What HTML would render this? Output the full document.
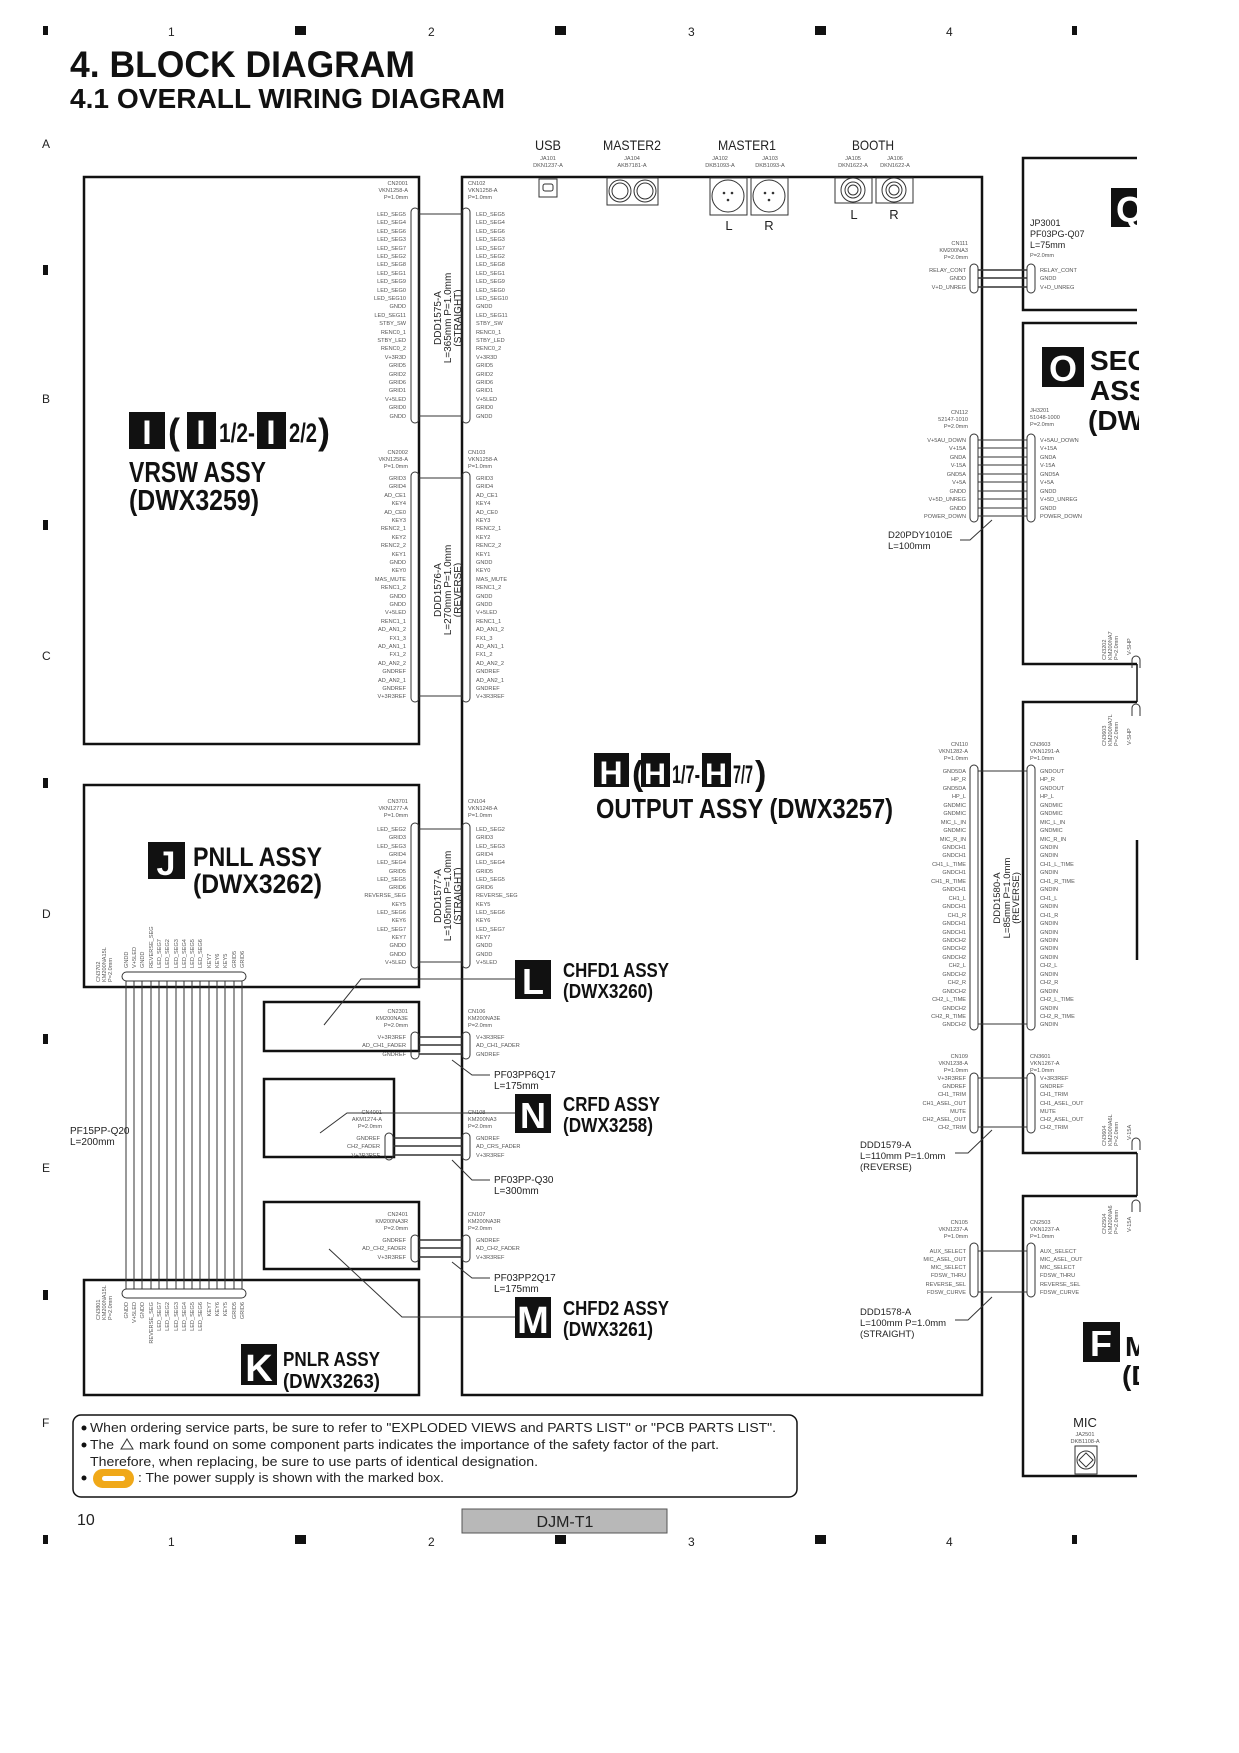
<!DOCTYPE html>
<html><head><meta charset="utf-8"><style>
html,body{margin:0;padding:0;background:#fff}
svg{display:block}
.p{font:5.6px "Liberation Sans",sans-serif;fill:#555}
.c{font:5.6px "Liberation Sans",sans-serif;fill:#555}
.h{font-family:"Liberation Sans",sans-serif;font-weight:bold;fill:#111}
.m{font-family:"Liberation Sans",sans-serif;fill:#222}
</style></head><body>
<svg width="1239" height="1753" viewBox="0 0 1239 1753" xmlns="http://www.w3.org/2000/svg">
<rect width="1239" height="1753" fill="#fff"/>
<!-- grid markers -->
<g fill="#111">
<rect x="43" y="26" width="5" height="9"/><rect x="295" y="26" width="11" height="9"/><rect x="555" y="26" width="11" height="9"/><rect x="815" y="26" width="11" height="9"/><rect x="1072" y="26" width="5" height="9"/>
<rect x="43" y="1535" width="5" height="9"/><rect x="295" y="1535" width="11" height="9"/><rect x="555" y="1535" width="11" height="9"/><rect x="815" y="1535" width="11" height="9"/><rect x="1072" y="1535" width="5" height="9"/>
<rect x="43" y="265" width="5" height="10"/><rect x="43" y="520" width="5" height="10"/><rect x="43" y="778" width="5" height="10"/><rect x="43" y="1034" width="5" height="10"/><rect x="43" y="1290" width="5" height="10"/>
</g>
<g class="m" font-size="12">
<text x="168" y="36">1</text><text x="428" y="36">2</text><text x="688" y="36">3</text><text x="946" y="36">4</text>
<text x="168" y="1546">1</text><text x="428" y="1546">2</text><text x="688" y="1546">3</text><text x="946" y="1546">4</text>
<text x="42" y="148">A</text><text x="42" y="403">B</text><text x="42" y="660">C</text><text x="42" y="918">D</text><text x="42" y="1172">E</text><text x="42" y="1427">F</text>
</g>
<!-- titles -->
<text class="h" x="70" y="77" font-size="37" textLength="345" lengthAdjust="spacingAndGlyphs">4. BLOCK DIAGRAM</text>
<text class="h" x="70" y="108" font-size="28" textLength="435" lengthAdjust="spacingAndGlyphs">4.1  OVERALL WIRING DIAGRAM</text>

<!-- main boxes -->
<g fill="none" stroke="#111" stroke-width="2.5">
<rect x="84" y="177" width="335" height="567"/>
<rect x="462" y="177" width="520" height="1218"/>
<rect x="84" y="785" width="335" height="202"/>
<rect x="84" y="1280" width="335" height="115"/>
<rect x="264" y="1002" width="155" height="49"/>
<rect x="264" y="1079" width="130" height="78"/>
<rect x="264" y="1202" width="155" height="67"/>
<path d="M1137 158 H1023 V310 H1137 M1137 323 H1023 V664 H1137 M1137 702 H1023 V1153 H1137 M1137 1196 H1023 V1476 H1137"/>
</g>
<line x1="1137" y1="1153" x2="1137" y2="1196" stroke="#111" stroke-width="1.5"/>
<line x1="1137" y1="840" x2="1137" y2="960" stroke="#111" stroke-width="2.5"/>
<line x1="1137" y1="664" x2="1137" y2="702" stroke="#111" stroke-width="1.5"/>

<!-- jacks -->
<g text-anchor="middle">
<text class="m" x="548" y="150" font-size="14" textLength="26" lengthAdjust="spacingAndGlyphs">USB</text>
<text class="m" x="632" y="150" font-size="14" textLength="58" lengthAdjust="spacingAndGlyphs">MASTER2</text>
<text class="m" x="747" y="150" font-size="14" textLength="58" lengthAdjust="spacingAndGlyphs">MASTER1</text>
<text class="m" x="873" y="150" font-size="14" textLength="42" lengthAdjust="spacingAndGlyphs">BOOTH</text>
<text class="c" x="548" y="160">JA101</text><text class="c" x="548" y="167">DKN1237-A</text>
<text class="c" x="632" y="160">JA104</text><text class="c" x="632" y="167">AKB7181-A</text>
<text class="c" x="720" y="160">JA102</text><text class="c" x="720" y="167">DKB1093-A</text>
<text class="c" x="770" y="160">JA103</text><text class="c" x="770" y="167">DKB1093-A</text>
<text class="c" x="853" y="160">JA105</text><text class="c" x="853" y="167">DKN1622-A</text>
<text class="c" x="895" y="160">JA106</text><text class="c" x="895" y="167">DKN1622-A</text>
<text class="m" x="729" y="230" font-size="13">L</text><text class="m" x="769" y="230" font-size="13">R</text>
<text class="m" x="854" y="219" font-size="13">L</text><text class="m" x="894" y="219" font-size="13">R</text>
</g>
<g fill="none" stroke="#333" stroke-width="1">
<rect x="539" y="179" width="18" height="18"/><rect x="543" y="184" width="10" height="7" rx="2"/>
<rect x="607" y="178" width="51" height="27"/><circle cx="620" cy="191" r="11"/><circle cx="620" cy="191" r="8"/><circle cx="645" cy="191" r="11"/><circle cx="645" cy="191" r="8"/>
<rect x="710" y="178" width="37" height="37"/><circle cx="728" cy="196" r="16"/><rect x="751" y="178" width="37" height="37"/><circle cx="769" cy="196" r="16"/>
<rect x="835" y="178" width="37" height="25"/><circle cx="853" cy="190" r="12"/><circle cx="853" cy="190" r="8"/><circle cx="853" cy="190" r="5"/>
<rect x="876" y="178" width="37" height="25"/><circle cx="894" cy="190" r="12"/><circle cx="894" cy="190" r="8"/><circle cx="894" cy="190" r="5"/>
</g>
<g fill="#333"><circle cx="724" cy="193" r="1.3"/><circle cx="732" cy="193" r="1.3"/><circle cx="728" cy="200" r="1.3"/><circle cx="765" cy="193" r="1.3"/><circle cx="773" cy="193" r="1.3"/><circle cx="769" cy="200" r="1.3"/></g>

<!-- ===== CN2001 / CN102 ===== -->
<g class="c" text-anchor="end"><text x="408" y="185">CN2001</text><text x="408" y="192">VKN1258-A</text><text x="408" y="199">P=1.0mm</text></g>
<g class="c"><text x="468" y="185">CN102</text><text x="468" y="192">VKN1258-A</text><text x="468" y="199">P=1.0mm</text></g>
<g fill="none" stroke="#333" stroke-width="1"><rect x="411" y="208" width="8" height="215" rx="4"/><rect x="462" y="208" width="8" height="215" rx="4"/></g>
<line x1="419" y1="214" x2="462" y2="214" stroke="#333"/><line x1="419" y1="416" x2="462" y2="416" stroke="#333"/>
<g class="p" text-anchor="end">
<text x="406" y="216">LED_SEG5</text><text x="406" y="224">LED_SEG4</text><text x="406" y="233">LED_SEG6</text><text x="406" y="241">LED_SEG3</text><text x="406" y="250">LED_SEG7</text><text x="406" y="258">LED_SEG2</text><text x="406" y="266">LED_SEG8</text><text x="406" y="275">LED_SEG1</text><text x="406" y="283">LED_SEG9</text><text x="406" y="292">LED_SEG0</text><text x="406" y="300">LED_SEG10</text><text x="406" y="308">GNDD</text><text x="406" y="317">LED_SEG11</text><text x="406" y="325">STBY_SW</text><text x="406" y="334">RENC0_1</text><text x="406" y="342">STBY_LED</text><text x="406" y="350">RENC0_2</text><text x="406" y="359">V+3R3D</text><text x="406" y="367">GRID5</text><text x="406" y="376">GRID2</text><text x="406" y="384">GRID6</text><text x="406" y="392">GRID1</text><text x="406" y="401">V+5LED</text><text x="406" y="409">GRID0</text><text x="406" y="418">GNDD</text>
</g>
<g class="p">
<text x="476" y="216">LED_SEG5</text><text x="476" y="224">LED_SEG4</text><text x="476" y="233">LED_SEG6</text><text x="476" y="241">LED_SEG3</text><text x="476" y="250">LED_SEG7</text><text x="476" y="258">LED_SEG2</text><text x="476" y="266">LED_SEG8</text><text x="476" y="275">LED_SEG1</text><text x="476" y="283">LED_SEG9</text><text x="476" y="292">LED_SEG0</text><text x="476" y="300">LED_SEG10</text><text x="476" y="308">GNDD</text><text x="476" y="317">LED_SEG11</text><text x="476" y="325">STBY_SW</text><text x="476" y="334">RENC0_1</text><text x="476" y="342">STBY_LED</text><text x="476" y="350">RENC0_2</text><text x="476" y="359">V+3R3D</text><text x="476" y="367">GRID5</text><text x="476" y="376">GRID2</text><text x="476" y="384">GRID6</text><text x="476" y="392">GRID1</text><text x="476" y="401">V+5LED</text><text x="476" y="409">GRID0</text><text x="476" y="418">GNDD</text>
</g>
<g class="m" font-size="10" text-anchor="middle" transform="translate(449,318) rotate(-90)"><text x="0" y="-8">DDD1575-A</text><text x="0" y="2">L=365mm P=1.0mm</text><text x="0" y="12">(STRAIGHT)</text></g>

<!-- ===== CN2002 / CN103 ===== -->
<g class="c" text-anchor="end"><text x="408" y="454">CN2002</text><text x="408" y="461">VKN1258-A</text><text x="408" y="468">P=1.0mm</text></g>
<g class="c"><text x="468" y="454">CN103</text><text x="468" y="461">VKN1258-A</text><text x="468" y="468">P=1.0mm</text></g>
<g fill="none" stroke="#333"><rect x="411" y="472" width="8" height="230" rx="4"/><rect x="462" y="472" width="8" height="230" rx="4"/></g>
<line x1="419" y1="478" x2="462" y2="478" stroke="#333"/><line x1="419" y1="696" x2="462" y2="696" stroke="#333"/>
<g class="p" text-anchor="end">
<text x="406" y="480">GRID3</text><text x="406" y="488">GRID4</text><text x="406" y="497">AD_CE1</text><text x="406" y="505">KEY4</text><text x="406" y="514">AD_CE0</text><text x="406" y="522">KEY3</text><text x="406" y="530">RENC2_1</text><text x="406" y="539">KEY2</text><text x="406" y="547">RENC2_2</text><text x="406" y="556">KEY1</text><text x="406" y="564">GNDD</text><text x="406" y="572">KEY0</text><text x="406" y="581">MAS_MUTE</text><text x="406" y="589">RENC1_2</text><text x="406" y="598">GNDD</text><text x="406" y="606">GNDD</text><text x="406" y="614">V+5LED</text><text x="406" y="623">RENC1_1</text><text x="406" y="631">AD_AN1_2</text><text x="406" y="640">FX1_3</text><text x="406" y="648">AD_AN1_1</text><text x="406" y="656">FX1_2</text><text x="406" y="665">AD_AN2_2</text><text x="406" y="673">GNDREF</text><text x="406" y="682">AD_AN2_1</text><text x="406" y="690">GNDREF</text><text x="406" y="698">V+3R3REF</text>
</g>
<g class="p">
<text x="476" y="480">GRID3</text><text x="476" y="488">GRID4</text><text x="476" y="497">AD_CE1</text><text x="476" y="505">KEY4</text><text x="476" y="514">AD_CE0</text><text x="476" y="522">KEY3</text><text x="476" y="530">RENC2_1</text><text x="476" y="539">KEY2</text><text x="476" y="547">RENC2_2</text><text x="476" y="556">KEY1</text><text x="476" y="564">GNDD</text><text x="476" y="572">KEY0</text><text x="476" y="581">MAS_MUTE</text><text x="476" y="589">RENC1_2</text><text x="476" y="598">GNDD</text><text x="476" y="606">GNDD</text><text x="476" y="614">V+5LED</text><text x="476" y="623">RENC1_1</text><text x="476" y="631">AD_AN1_2</text><text x="476" y="640">FX1_3</text><text x="476" y="648">AD_AN1_1</text><text x="476" y="656">FX1_2</text><text x="476" y="665">AD_AN2_2</text><text x="476" y="673">GNDREF</text><text x="476" y="682">AD_AN2_1</text><text x="476" y="690">GNDREF</text><text x="476" y="698">V+3R3REF</text>
</g>
<g class="m" font-size="10" text-anchor="middle" transform="translate(449,590) rotate(-90)"><text x="0" y="-8">DDD1576-A</text><text x="0" y="2">L=270mm P=1.0mm</text><text x="0" y="12">(REVERSE)</text></g>

<!-- ===== CN3701 / CN104 ===== -->
<g class="c" text-anchor="end"><text x="408" y="803">CN3701</text><text x="408" y="810">VKN1277-A</text><text x="408" y="817">P=1.0mm</text></g>
<g class="c"><text x="468" y="803">CN104</text><text x="468" y="810">VKN1248-A</text><text x="468" y="817">P=1.0mm</text></g>
<g fill="none" stroke="#333"><rect x="411" y="823" width="8" height="145" rx="4"/><rect x="462" y="823" width="8" height="145" rx="4"/></g>
<line x1="419" y1="829" x2="462" y2="829" stroke="#333"/><line x1="419" y1="962" x2="462" y2="962" stroke="#333"/>
<g class="p" text-anchor="end">
<text x="406" y="831">LED_SEG2</text><text x="406" y="839">GRID3</text><text x="406" y="848">LED_SEG3</text><text x="406" y="856">GRID4</text><text x="406" y="864">LED_SEG4</text><text x="406" y="873">GRID5</text><text x="406" y="881">LED_SEG5</text><text x="406" y="889">GRID6</text><text x="406" y="897">REVERSE_SEG</text><text x="406" y="906">KEY5</text><text x="406" y="914">LED_SEG6</text><text x="406" y="922">KEY6</text><text x="406" y="931">LED_SEG7</text><text x="406" y="939">KEY7</text><text x="406" y="947">GNDD</text><text x="406" y="956">GNDD</text><text x="406" y="964">V+5LED</text>
</g>
<g class="p">
<text x="476" y="831">LED_SEG2</text><text x="476" y="839">GRID3</text><text x="476" y="848">LED_SEG3</text><text x="476" y="856">GRID4</text><text x="476" y="864">LED_SEG4</text><text x="476" y="873">GRID5</text><text x="476" y="881">LED_SEG5</text><text x="476" y="889">GRID6</text><text x="476" y="897">REVERSE_SEG</text><text x="476" y="906">KEY5</text><text x="476" y="914">LED_SEG6</text><text x="476" y="922">KEY6</text><text x="476" y="931">LED_SEG7</text><text x="476" y="939">KEY7</text><text x="476" y="947">GNDD</text><text x="476" y="956">GNDD</text><text x="476" y="964">V+5LED</text>
</g>
<g class="m" font-size="10" text-anchor="middle" transform="translate(449,896) rotate(-90)"><text x="0" y="-8">DDD1577-A</text><text x="0" y="2">L=105mm P=1.0mm</text><text x="0" y="12">(STRAIGHT)</text></g>

<!-- J / K ribbon -->
<g fill="none" stroke="#333"><rect x="122" y="972" width="124" height="9" rx="4.5"/><rect x="122" y="1289" width="124" height="9" rx="4.5"/></g>
<g stroke="#333" stroke-width="1">
<line x1="126" y1="981" x2="126" y2="1289"/><line x1="134" y1="981" x2="134" y2="1289"/><line x1="142" y1="981" x2="142" y2="1289"/><line x1="151" y1="981" x2="151" y2="1289"/><line x1="159" y1="981" x2="159" y2="1289"/><line x1="167" y1="981" x2="167" y2="1289"/><line x1="176" y1="981" x2="176" y2="1289"/><line x1="184" y1="981" x2="184" y2="1289"/><line x1="192" y1="981" x2="192" y2="1289"/><line x1="200" y1="981" x2="200" y2="1289"/><line x1="209" y1="981" x2="209" y2="1289"/><line x1="217" y1="981" x2="217" y2="1289"/><line x1="225" y1="981" x2="225" y2="1289"/><line x1="234" y1="981" x2="234" y2="1289"/><line x1="242" y1="981" x2="242" y2="1289"/>
</g>
<g class="p">
<g transform="translate(128,968) rotate(-90)"><text>GNDD</text></g><g transform="translate(136,968) rotate(-90)"><text>V+5LED</text></g><g transform="translate(144,968) rotate(-90)"><text>GNDD</text></g><g transform="translate(153,968) rotate(-90)"><text>REVERSE_SEG</text></g><g transform="translate(161,968) rotate(-90)"><text>LED_SEG7</text></g><g transform="translate(169,968) rotate(-90)"><text>LED_SEG2</text></g><g transform="translate(178,968) rotate(-90)"><text>LED_SEG3</text></g><g transform="translate(186,968) rotate(-90)"><text>LED_SEG4</text></g><g transform="translate(194,968) rotate(-90)"><text>LED_SEG5</text></g><g transform="translate(202,968) rotate(-90)"><text>LED_SEG6</text></g><g transform="translate(211,968) rotate(-90)"><text>KEY7</text></g><g transform="translate(219,968) rotate(-90)"><text>KEY6</text></g><g transform="translate(227,968) rotate(-90)"><text>KEY5</text></g><g transform="translate(236,968) rotate(-90)"><text>GRID5</text></g><g transform="translate(244,968) rotate(-90)"><text>GRID6</text></g>
<g transform="translate(100,982) rotate(-90)"><text>CN3702</text><text y="6">KM200NA15L</text><text y="12">P=2.0mm</text></g>
<g transform="translate(128,1302) rotate(-90)"><text text-anchor="end">GNDD</text></g><g transform="translate(136,1302) rotate(-90)"><text text-anchor="end">V+5LED</text></g><g transform="translate(144,1302) rotate(-90)"><text text-anchor="end">GNDD</text></g><g transform="translate(153,1302) rotate(-90)"><text text-anchor="end">REVERSE_SEG</text></g><g transform="translate(161,1302) rotate(-90)"><text text-anchor="end">LED_SEG7</text></g><g transform="translate(169,1302) rotate(-90)"><text text-anchor="end">LED_SEG2</text></g><g transform="translate(178,1302) rotate(-90)"><text text-anchor="end">LED_SEG3</text></g><g transform="translate(186,1302) rotate(-90)"><text text-anchor="end">LED_SEG4</text></g><g transform="translate(194,1302) rotate(-90)"><text text-anchor="end">LED_SEG5</text></g><g transform="translate(202,1302) rotate(-90)"><text text-anchor="end">LED_SEG6</text></g><g transform="translate(211,1302) rotate(-90)"><text text-anchor="end">KEY7</text></g><g transform="translate(219,1302) rotate(-90)"><text text-anchor="end">KEY6</text></g><g transform="translate(227,1302) rotate(-90)"><text text-anchor="end">KEY5</text></g><g transform="translate(236,1302) rotate(-90)"><text text-anchor="end">GRID5</text></g><g transform="translate(244,1302) rotate(-90)"><text text-anchor="end">GRID6</text></g>
<g transform="translate(100,1320) rotate(-90)"><text>CN3801</text><text y="6">KM200NA15L</text><text y="12">P=2.0mm</text></g>
</g>
<text class="m" x="70" y="1134" font-size="10">PF15PP-Q20</text><text class="m" x="70" y="1145" font-size="10">L=200mm</text>

<!-- small connectors L N M -->
<g fill="none" stroke="#333"><rect x="411" y="1032" width="8" height="27" rx="4"/><rect x="462" y="1032" width="8" height="27" rx="4"/>
<rect x="385" y="1133" width="8" height="27" rx="4"/><rect x="462" y="1133" width="8" height="27" rx="4"/>
<rect x="411" y="1235" width="8" height="27" rx="4"/><rect x="462" y="1235" width="8" height="27" rx="4"/></g>
<g stroke="#333" stroke-width="1.4"><line x1="419" y1="1037" x2="462" y2="1037"/><line x1="419" y1="1045" x2="462" y2="1045"/><line x1="419" y1="1054" x2="462" y2="1054"/>
<line x1="393" y1="1138" x2="462" y2="1138"/><line x1="393" y1="1146" x2="462" y2="1146"/><line x1="393" y1="1155" x2="462" y2="1155"/>
<line x1="419" y1="1240" x2="462" y2="1240"/><line x1="419" y1="1248" x2="462" y2="1248"/><line x1="419" y1="1257" x2="462" y2="1257"/></g>
<g class="c" text-anchor="end">
<text x="408" y="1013">CN2301</text><text x="408" y="1020">KM200NA3E</text><text x="408" y="1027">P=2.0mm</text>
<text x="406" y="1039">V+3R3REF</text><text x="406" y="1047">AD_CH1_FADER</text><text x="406" y="1056">GNDREF</text>
<text x="382" y="1114">CN4001</text><text x="382" y="1121">AKM1274-A</text><text x="382" y="1128">P=2.0mm</text>
<text x="380" y="1140">GNDREF</text><text x="380" y="1148">CH2_FADER</text><text x="380" y="1157">V+3R3REF</text>
<text x="408" y="1216">CN2401</text><text x="408" y="1223">KM200NA3R</text><text x="408" y="1230">P=2.0mm</text>
<text x="406" y="1242">GNDREF</text><text x="406" y="1250">AD_CH2_FADER</text><text x="406" y="1259">V+3R3REF</text>
</g>
<g class="c">
<text x="468" y="1013">CN106</text><text x="468" y="1020">KM200NA3E</text><text x="468" y="1027">P=2.0mm</text>
<text x="476" y="1039">V+3R3REF</text><text x="476" y="1047">AD_CH1_FADER</text><text x="476" y="1056">GNDREF</text>
<text x="468" y="1114">CN108</text><text x="468" y="1121">KM200NA3</text><text x="468" y="1128">P=2.0mm</text>
<text x="476" y="1140">GNDREF</text><text x="476" y="1148">AD_CRS_FADER</text><text x="476" y="1157">V+3R3REF</text>
<text x="468" y="1216">CN107</text><text x="468" y="1223">KM200NA3R</text><text x="468" y="1230">P=2.0mm</text>
<text x="476" y="1242">GNDREF</text><text x="476" y="1250">AD_CH2_FADER</text><text x="476" y="1259">V+3R3REF</text>
</g>
<g fill="none" stroke="#333" stroke-width="1">
<path d="M452 1060 L472 1075 H490"/><path d="M452 1160 L472 1180 H490"/><path d="M452 1262 L472 1278 H490"/>
<path d="M515 979 H361 L324 1025"/><path d="M515 1113 H347 L320 1133"/><path d="M515 1317 H402 L329 1249"/>
</g>
<g class="m" font-size="10">
<text x="494" y="1078">PF03PP6Q17</text><text x="494" y="1089">L=175mm</text>
<text x="494" y="1183">PF03PP-Q30</text><text x="494" y="1194">L=300mm</text>
<text x="494" y="1281">PF03PP2Q17</text><text x="494" y="1292">L=175mm</text>
</g>

<!-- ASSY labels -->
<g fill="#111">
<rect x="129" y="412" width="36" height="37"/><rect x="187" y="412" width="29" height="37"/><rect x="257" y="412" width="29" height="37"/>
<rect x="594" y="753" width="35" height="34"/><rect x="641" y="753" width="29" height="34"/><rect x="702" y="753" width="29" height="34"/>
<rect x="148" y="842" width="37" height="37"/>
<rect x="241" y="1344" width="36" height="41"/>
<rect x="515" y="960" width="36" height="39"/><rect x="515" y="1094" width="36" height="39"/><rect x="515" y="1297" width="36" height="41"/>
<rect x="1111" y="188" width="26" height="39"/><rect x="1042" y="347" width="42" height="40"/><rect x="1083" y="1322" width="37" height="40"/>
</g>
<g class="h" text-anchor="middle">
<text x="147" y="444" font-size="34" style="fill:#fff">I</text><text x="201" y="444" font-size="34" style="fill:#fff">I</text><text x="271" y="444" font-size="34" style="fill:#fff">I</text>
<text x="611" y="784" font-size="32" style="fill:#fff">H</text><text x="655" y="784" font-size="30" style="fill:#fff" textLength="22" lengthAdjust="spacingAndGlyphs">H</text><text x="716" y="784" font-size="30" style="fill:#fff" textLength="22" lengthAdjust="spacingAndGlyphs">H</text>
<text x="166" y="875" font-size="34" style="fill:#fff">J</text>
<text x="259" y="1381" font-size="38" style="fill:#fff">K</text>
<text x="533" y="994" font-size="36" style="fill:#fff">L</text><text x="533" y="1128" font-size="36" style="fill:#fff">N</text><text x="533" y="1333" font-size="38" style="fill:#fff">M</text>
<text x="1130" y="222" font-size="36" style="fill:#fff">Q</text><text x="1063" y="381" font-size="36" style="fill:#fff">O</text><text x="1101" y="1356" font-size="36" style="fill:#fff">F</text>
</g>
<g class="h">
<text x="168" y="444" font-size="36">(</text><text x="219" y="442" font-size="27" textLength="36" lengthAdjust="spacingAndGlyphs">1/2-</text><text x="289" y="442" font-size="27" textLength="28" lengthAdjust="spacingAndGlyphs">2/2</text><text x="318" y="444" font-size="36">)</text>
<text x="129" y="482" font-size="29" textLength="137" lengthAdjust="spacingAndGlyphs">VRSW ASSY</text>
<text x="129" y="510" font-size="29" textLength="130" lengthAdjust="spacingAndGlyphs">(DWX3259)</text>
<text x="632" y="785" font-size="34">(</text><text x="672" y="783" font-size="25" textLength="28" lengthAdjust="spacingAndGlyphs">1/7-</text><text x="733" y="783" font-size="25" textLength="20" lengthAdjust="spacingAndGlyphs">7/7</text><text x="755" y="785" font-size="34">)</text>
<text x="596" y="818" font-size="28" textLength="297" lengthAdjust="spacingAndGlyphs">OUTPUT ASSY (DWX3257)</text>
<text x="193" y="866" font-size="27" textLength="129" lengthAdjust="spacingAndGlyphs">PNLL ASSY</text>
<text x="193" y="893" font-size="27" textLength="129" lengthAdjust="spacingAndGlyphs">(DWX3262)</text>
<text x="283" y="1366" font-size="20" textLength="97" lengthAdjust="spacingAndGlyphs">PNLR ASSY</text>
<text x="283" y="1388" font-size="20" textLength="97" lengthAdjust="spacingAndGlyphs">(DWX3263)</text>
<text x="563" y="977" font-size="20" textLength="106" lengthAdjust="spacingAndGlyphs">CHFD1 ASSY</text>
<text x="563" y="998" font-size="20" textLength="90" lengthAdjust="spacingAndGlyphs">(DWX3260)</text>
<text x="563" y="1111" font-size="20" textLength="97" lengthAdjust="spacingAndGlyphs">CRFD ASSY</text>
<text x="563" y="1132" font-size="20" textLength="90" lengthAdjust="spacingAndGlyphs">(DWX3258)</text>
<text x="563" y="1315" font-size="20" textLength="106" lengthAdjust="spacingAndGlyphs">CHFD2 ASSY</text>
<text x="563" y="1336" font-size="20" textLength="90" lengthAdjust="spacingAndGlyphs">(DWX3261)</text>
<text x="1090" y="370" font-size="28">SECO</text><text x="1090" y="400" font-size="28">ASSY</text><text x="1088" y="430" font-size="28">(DWX</text>
<text x="1125" y="1356" font-size="28">M</text><text x="1122" y="1385" font-size="28">(D</text>
</g>
<!-- white cover to clip right side -->
<rect x="1139" y="140" width="100" height="1360" fill="#fff"/>

<!-- ===== right-side connectors ===== -->
<g class="c" text-anchor="end"><text x="968" y="245">CN111</text><text x="968" y="252">KM200NA3</text><text x="968" y="259">P=2.0mm</text>
<text x="966" y="272">RELAY_CONT</text><text x="966" y="280">GNDD</text><text x="966" y="289">V+D_UNREG</text></g>
<g fill="none" stroke="#333"><rect x="970" y="264" width="8" height="29" rx="4"/><rect x="1027" y="264" width="8" height="29" rx="4"/></g>
<g stroke="#333" stroke-width="1.4"><line x1="978" y1="270" x2="1027" y2="270"/><line x1="978" y1="278" x2="1027" y2="278"/><line x1="978" y1="287" x2="1027" y2="287"/></g>
<g class="c"><text x="1040" y="272">RELAY_CONT</text><text x="1040" y="280">GNDD</text><text x="1040" y="289">V+D_UNREG</text></g>
<g class="m" font-size="9"><text x="1030" y="226">JP3001</text><text x="1030" y="237">PF03PG-Q07</text><text x="1030" y="248">L=75mm</text></g><text class="c" x="1030" y="257">P=2.0mm</text>

<g class="c" text-anchor="end"><text x="968" y="414">CN112</text><text x="968" y="421">52147-1010</text><text x="968" y="428">P=2.0mm</text></g>
<g class="c"><text x="1030" y="412">JH3201</text><text x="1030" y="419">51048-1000</text><text x="1030" y="426">P=2.0mm</text></g>
<g fill="none" stroke="#333"><rect x="970" y="434" width="8" height="88" rx="4"/><rect x="1027" y="434" width="8" height="88" rx="4"/></g>
<g stroke="#333" stroke-width="1"><line x1="978" y1="440" x2="1027" y2="440"/><line x1="978" y1="448" x2="1027" y2="448"/><line x1="978" y1="457" x2="1027" y2="457"/><line x1="978" y1="465" x2="1027" y2="465"/><line x1="978" y1="474" x2="1027" y2="474"/><line x1="978" y1="482" x2="1027" y2="482"/><line x1="978" y1="491" x2="1027" y2="491"/><line x1="978" y1="499" x2="1027" y2="499"/><line x1="978" y1="508" x2="1027" y2="508"/><line x1="978" y1="516" x2="1027" y2="516"/></g>
<g class="p" text-anchor="end"><text x="966" y="442">V+5AU_DOWN</text><text x="966" y="450">V+15A</text><text x="966" y="459">GNDA</text><text x="966" y="467">V-15A</text><text x="966" y="476">GND5A</text><text x="966" y="484">V+5A</text><text x="966" y="493">GNDD</text><text x="966" y="501">V+5D_UNREG</text><text x="966" y="510">GNDD</text><text x="966" y="518">POWER_DOWN</text></g>
<g class="p"><text x="1040" y="442">V+5AU_DOWN</text><text x="1040" y="450">V+15A</text><text x="1040" y="459">GNDA</text><text x="1040" y="467">V-15A</text><text x="1040" y="476">GND5A</text><text x="1040" y="484">V+5A</text><text x="1040" y="493">GNDD</text><text x="1040" y="501">V+5D_UNREG</text><text x="1040" y="510">GNDD</text><text x="1040" y="518">POWER_DOWN</text></g>
<path d="M992 520 L970 540 H960" fill="none" stroke="#333"/>
<g class="m" font-size="9.5"><text x="888" y="538">D20PDY1010E</text><text x="888" y="549">L=100mm</text></g>

<g class="c" text-anchor="end"><text x="968" y="746">CN110</text><text x="968" y="753">VKN1282-A</text><text x="968" y="760">P=1.0mm</text></g>
<g class="c"><text x="1030" y="746">CN3603</text><text x="1030" y="753">VKN1291-A</text><text x="1030" y="760">P=1.0mm</text></g>
<g fill="none" stroke="#333"><rect x="970" y="765" width="8" height="265" rx="4"/><rect x="1027" y="765" width="8" height="265" rx="4"/></g>
<line x1="978" y1="771" x2="1027" y2="771" stroke="#333"/><line x1="978" y1="1024" x2="1027" y2="1024" stroke="#333"/>
<g class="p" text-anchor="end">
<text x="966" y="773">GND5DA</text><text x="966" y="781">HP_R</text><text x="966" y="790">GND5DA</text><text x="966" y="798">HP_L</text><text x="966" y="807">GNDMIC</text><text x="966" y="815">GNDMIC</text><text x="966" y="824">MIC_L_IN</text><text x="966" y="832">GNDMIC</text><text x="966" y="841">MIC_R_IN</text><text x="966" y="849">GNDCH1</text><text x="966" y="857">GNDCH1</text><text x="966" y="866">CH1_L_TIME</text><text x="966" y="874">GNDCH1</text><text x="966" y="883">CH1_R_TIME</text><text x="966" y="891">GNDCH1</text><text x="966" y="900">CH1_L</text><text x="966" y="908">GNDCH1</text><text x="966" y="917">CH1_R</text><text x="966" y="925">GNDCH1</text><text x="966" y="934">GNDCH1</text><text x="966" y="942">GNDCH2</text><text x="966" y="950">GNDCH2</text><text x="966" y="959">GNDCH2</text><text x="966" y="967">CH2_L</text><text x="966" y="976">GNDCH2</text><text x="966" y="984">CH2_R</text><text x="966" y="993">GNDCH2</text><text x="966" y="1001">CH2_L_TIME</text><text x="966" y="1010">GNDCH2</text><text x="966" y="1018">CH2_R_TIME</text><text x="966" y="1026">GNDCH2</text>
</g>
<g class="p">
<text x="1040" y="773">GNDOUT</text><text x="1040" y="781">HP_R</text><text x="1040" y="790">GNDOUT</text><text x="1040" y="798">HP_L</text><text x="1040" y="807">GNDMIC</text><text x="1040" y="815">GNDMIC</text><text x="1040" y="824">MIC_L_IN</text><text x="1040" y="832">GNDMIC</text><text x="1040" y="841">MIC_R_IN</text><text x="1040" y="849">GNDIN</text><text x="1040" y="857">GNDIN</text><text x="1040" y="866">CH1_L_TIME</text><text x="1040" y="874">GNDIN</text><text x="1040" y="883">CH1_R_TIME</text><text x="1040" y="891">GNDIN</text><text x="1040" y="900">CH1_L</text><text x="1040" y="908">GNDIN</text><text x="1040" y="917">CH1_R</text><text x="1040" y="925">GNDIN</text><text x="1040" y="934">GNDIN</text><text x="1040" y="942">GNDIN</text><text x="1040" y="950">GNDIN</text><text x="1040" y="959">GNDIN</text><text x="1040" y="967">CH2_L</text><text x="1040" y="976">GNDIN</text><text x="1040" y="984">CH2_R</text><text x="1040" y="993">GNDIN</text><text x="1040" y="1001">CH2_L_TIME</text><text x="1040" y="1010">GNDIN</text><text x="1040" y="1018">CH2_R_TIME</text><text x="1040" y="1026">GNDIN</text>
</g>
<g class="m" font-size="9.5" text-anchor="middle" transform="translate(1004,898) rotate(-90)"><text y="-4">DDD1580-A</text><text y="6">L=85mm P=1.0mm</text><text y="15">(REVERSE)</text></g>

<g class="c" text-anchor="end"><text x="968" y="1058">CN109</text><text x="968" y="1065">VKN1238-A</text><text x="968" y="1072">P=1.0mm</text></g>
<g class="c"><text x="1030" y="1058">CN3601</text><text x="1030" y="1065">VKN1267-A</text><text x="1030" y="1072">P=1.0mm</text></g>
<g fill="none" stroke="#333"><rect x="970" y="1073" width="8" height="60" rx="4"/><rect x="1027" y="1073" width="8" height="60" rx="4"/></g>
<line x1="978" y1="1078" x2="1027" y2="1078" stroke="#333"/><line x1="978" y1="1127" x2="1027" y2="1127" stroke="#333"/>
<g class="p" text-anchor="end"><text x="966" y="1080">V+3R3REF</text><text x="966" y="1088">GNDREF</text><text x="966" y="1096">CH1_TRIM</text><text x="966" y="1105">CH1_ASEL_OUT</text><text x="966" y="1113">MUTE</text><text x="966" y="1121">CH2_ASEL_OUT</text><text x="966" y="1129">CH2_TRIM</text></g>
<g class="p"><text x="1040" y="1080">V+3R3REF</text><text x="1040" y="1088">GNDREF</text><text x="1040" y="1096">CH1_TRIM</text><text x="1040" y="1105">CH1_ASEL_OUT</text><text x="1040" y="1113">MUTE</text><text x="1040" y="1121">CH2_ASEL_OUT</text><text x="1040" y="1129">CH2_TRIM</text></g>
<path d="M992 1130 L968 1153 H955" fill="none" stroke="#333"/>
<g class="m" font-size="9.5"><text x="860" y="1148">DDD1579-A</text><text x="860" y="1159">L=110mm P=1.0mm</text><text x="860" y="1170">(REVERSE)</text></g>

<g class="c" text-anchor="end"><text x="968" y="1224">CN105</text><text x="968" y="1231">VKN1237-A</text><text x="968" y="1238">P=1.0mm</text></g>
<g class="c"><text x="1030" y="1224">CN2503</text><text x="1030" y="1231">VKN1237-A</text><text x="1030" y="1238">P=1.0mm</text></g>
<g fill="none" stroke="#333"><rect x="970" y="1243" width="8" height="54" rx="4"/><rect x="1027" y="1243" width="8" height="54" rx="4"/></g>
<line x1="978" y1="1251" x2="1027" y2="1251" stroke="#333"/><line x1="978" y1="1292" x2="1027" y2="1292" stroke="#333"/>
<g class="p" text-anchor="end"><text x="966" y="1253">AUX_SELECT</text><text x="966" y="1261">MIC_ASEL_OUT</text><text x="966" y="1269">MIC_SELECT</text><text x="966" y="1277">FDSW_THRU</text><text x="966" y="1286">REVERSE_SEL</text><text x="966" y="1294">FDSW_CURVE</text></g>
<g class="p"><text x="1040" y="1253">AUX_SELECT</text><text x="1040" y="1261">MIC_ASEL_OUT</text><text x="1040" y="1269">MIC_SELECT</text><text x="1040" y="1277">FDSW_THRU</text><text x="1040" y="1286">REVERSE_SEL</text><text x="1040" y="1294">FDSW_CURVE</text></g>
<path d="M992 1297 L968 1320 H955" fill="none" stroke="#333"/>
<g class="m" font-size="9.5"><text x="860" y="1315">DDD1578-A</text><text x="860" y="1326">L=100mm P=1.0mm</text><text x="860" y="1337">(STRAIGHT)</text></g>

<g class="c">
<g transform="translate(1106,660) rotate(-90)"><text>CN3202</text><text y="6">KM200NA7</text><text y="12">P=2.0mm</text></g>
<g transform="translate(1131,655) rotate(-90)"><text>V-SHP</text></g>
<g transform="translate(1106,746) rotate(-90)"><text>CN3603</text><text y="6">KM200NA7L</text><text y="12">P=2.0mm</text></g>
<g transform="translate(1131,745) rotate(-90)"><text>V-SHP</text></g>
<g transform="translate(1106,1146) rotate(-90)"><text>CN3604</text><text y="6">KM200NA6L</text><text y="12">P=2.0mm</text></g>
<g transform="translate(1131,1140) rotate(-90)"><text>V-15A</text></g>
<g transform="translate(1106,1234) rotate(-90)"><text>CN2504</text><text y="6">KM200NA6</text><text y="12">P=2.0mm</text></g>
<g transform="translate(1131,1232) rotate(-90)"><text>V-15A</text></g>
</g>
<g fill="none" stroke="#333"><path d="M1132 668 v-8 a4 4 0 0 1 8 0 v8"/><path d="M1132 716 v-8 a4 4 0 0 1 8 0 v8"/><path d="M1132 1150 v-8 a4 4 0 0 1 8 0 v8"/><path d="M1132 1212 v-8 a4 4 0 0 1 8 0 v8"/></g>

<!-- MIC -->
<text class="m" x="1085" y="1427" font-size="13" text-anchor="middle">MIC</text>
<g class="c" text-anchor="middle"><text x="1085" y="1436">JA2501</text><text x="1085" y="1443">DKB1108-A</text></g>
<rect x="1075" y="1446" width="22" height="28" fill="none" stroke="#333"/><circle cx="1086" cy="1460" r="9" fill="none" stroke="#333"/><rect x="1081" y="1455" width="10" height="10" fill="none" stroke="#333" transform="rotate(45 1086 1460)"/>

<!-- notes -->
<rect x="73" y="1415" width="724" height="82" rx="8" fill="none" stroke="#111" stroke-width="1.5"/>
<g class="m" font-size="13">
<circle cx="84" cy="1428" r="2.5" fill="#111"/><text x="90" y="1432" textLength="686" lengthAdjust="spacingAndGlyphs">When ordering service parts, be sure to refer to "EXPLODED VIEWS and PARTS LIST" or  "PCB PARTS LIST".</text>
<circle cx="84" cy="1445" r="2.5" fill="#111"/><text x="90" y="1449" textLength="24" lengthAdjust="spacingAndGlyphs">The</text>
<path d="M127 1439 L133 1449 H121 Z" fill="none" stroke="#333"/>
<text x="139" y="1449" textLength="580" lengthAdjust="spacingAndGlyphs">mark found on some component parts indicates the importance of the safety factor of the part.</text>
<text x="90" y="1466" textLength="448" lengthAdjust="spacingAndGlyphs">Therefore, when  replacing, be sure to use parts of identical designation.</text>
<circle cx="84" cy="1478" r="2.5" fill="#111"/>
<text x="138" y="1482" textLength="306" lengthAdjust="spacingAndGlyphs">: The power supply is shown with the marked box.</text>
</g>
<rect x="93" y="1469" width="41" height="19" rx="9.5" fill="#f0a818"/><rect x="102" y="1476" width="23" height="5" rx="2.5" fill="#fff"/>
<text class="m" x="77" y="1525" font-size="16">10</text>
<rect x="462" y="1509" width="205" height="24" fill="#b8b8b8" stroke="#555"/>
<text class="m" x="565" y="1527" font-size="16" text-anchor="middle">DJM-T1</text>
</svg>
</body></html>
